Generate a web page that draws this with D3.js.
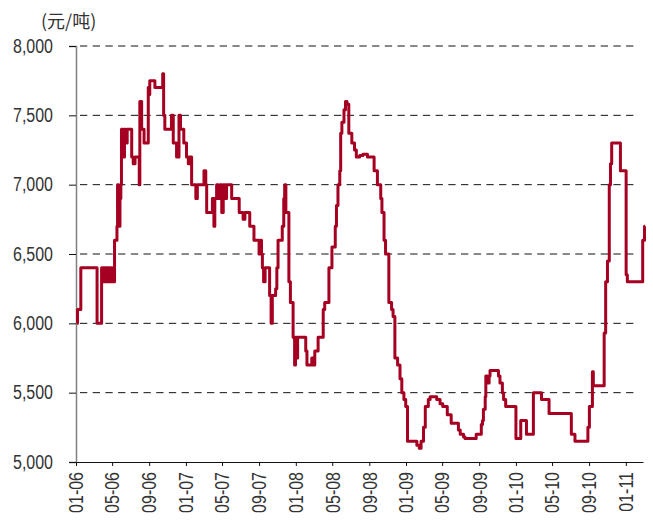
<!DOCTYPE html>
<html>
<head>
<meta charset="utf-8">
<script src="https://cdn.jsdelivr.net/npm/d3@7/dist/d3.min.js"></script>
<style>
  body { margin: 0; background: #fff; }
  text { font-family: "Liberation Sans Narrow", "Arial Narrow", "Liberation Sans", sans-serif; fill: #333; }
</style>
</head>
<body>
<script>
// price change dates (step after) and price in 元/吨
const dates = [
  "2006-01-04","2006-01-06","2006-01-17","2006-03-12","2006-03-27","2006-03-31","2006-04-04","2006-04-07",
  "2006-04-10","2006-04-15","2006-04-19","2006-04-24","2006-04-29","2006-05-01","2006-05-09","2006-05-17",
  "2006-05-19","2006-05-20","2006-05-22","2006-05-23","2006-05-27","2006-05-30","2006-06-01","2006-06-07",
  "2006-06-11","2006-06-16","2006-06-20","2006-07-05","2006-07-10","2006-07-16","2006-07-30","2006-08-01",
  "2006-08-07","2006-08-15","2006-08-29","2006-09-01","2006-09-03","2006-09-20","2006-10-16","2006-10-19",
  "2006-10-23","2006-11-14","2006-11-20","2006-12-01","2006-12-09","2006-12-14","2006-12-25",
  "2007-01-03","2007-01-09","2007-01-14","2007-01-20","2007-02-03","2007-02-08","2007-03-02","2007-03-08",
  "2007-03-11","2007-03-30","2007-04-04","2007-04-07","2007-04-13","2007-04-18","2007-04-24","2007-04-30",
  "2007-05-05","2007-05-11","2007-05-16","2007-06-02","2007-06-27","2007-07-10","2007-07-16","2007-08-01",
  "2007-08-15","2007-09-01","2007-09-06","2007-09-09","2007-09-12","2007-09-16","2007-09-21","2007-10-06",
  "2007-10-11","2007-10-15","2007-10-26","2007-10-30","2007-11-03","2007-11-17","2007-11-22","2007-11-25",
  "2007-11-29","2007-12-09","2007-12-14","2007-12-23","2007-12-28","2007-12-31",
  "2008-01-04","2008-01-07","2008-02-03","2008-02-07","2008-02-23","2008-02-28","2008-03-04","2008-03-15",
  "2008-04-01","2008-04-06","2008-04-20","2008-04-30","2008-05-11","2008-05-15","2008-05-20","2008-05-26",
  "2008-05-29","2008-06-02","2008-06-09","2008-06-14","2008-06-19","2008-06-25","2008-07-05","2008-07-14",
  "2008-07-20","2008-07-31","2008-08-11","2008-08-26","2008-09-17","2008-09-28","2008-10-09","2008-10-13",
  "2008-10-20","2008-10-25","2008-11-05","2008-11-14","2008-11-19","2008-11-25","2008-12-04","2008-12-12",
  "2008-12-18","2008-12-25","2008-12-31",
  "2009-01-06","2009-02-06","2009-02-14","2009-02-20","2009-02-28","2009-03-06","2009-03-16","2009-03-22",
  "2009-04-13","2009-04-24","2009-05-03","2009-05-18","2009-05-31","2009-06-24","2009-06-30","2009-07-11",
  "2009-07-16","2009-08-22","2009-09-08","2009-09-12","2009-09-15","2009-09-21","2009-09-23","2009-09-29",
  "2009-10-04","2009-10-07","2009-11-04","2009-11-09","2009-11-17","2009-11-21","2009-11-28",
  "2010-01-01","2010-01-17","2010-02-05","2010-02-28","2010-03-27","2010-04-21","2010-07-04","2010-07-16",
  "2010-08-28","2010-09-02","2010-09-12","2010-09-15","2010-10-16","2010-10-21","2010-10-26","2010-11-01",
  "2010-11-07","2010-11-11","2010-11-15","2010-12-14",
  "2011-01-02","2011-01-06","2011-02-26","2011-03-04","2011-03-06"
];
const prices = [
  6000,6100,6400,6000,6400,6300,6400,6300,
  6400,6300,6400,6300,6400,6300,6600,6700,
  7000,6800,7000,6700,6900,7000,7400,7200,
  7400,7300,7400,7200,7150,7200,7000,7600,
  7400,7300,7700,7650,7750,7700,7800,7500,
  7400,7500,7300,7200,7500,7400,7300,
  7200,7150,7200,7000,6900,7000,7100,7000,
  6800,6900,6700,6900,7000,6900,7000,6800,
  7000,6900,7000,6900,6800,6750,6800,6700,
  6600,6500,6600,6500,6400,6300,6400,6200,
  6000,6200,6250,6400,6600,6700,6900,7000,
  6800,6300,6150,5900,5700,5900,
  5750,5900,5800,5700,5750,5700,5800,5900,
  6100,6150,6400,6550,6700,6850,7000,7100,
  7370,7450,7540,7600,7580,7370,7300,7250,
  7200,7210,7220,7200,7100,7000,6900,6800,
  6600,6500,6150,6100,6050,5750,5700,5600,
  5500,5450,5400,
  5150,5120,5100,5150,5250,5400,5450,5470,
  5450,5420,5400,5340,5280,5230,5200,5180,
  5170,5200,5270,5300,5380,5470,5620,5570,
  5620,5660,5620,5570,5500,5450,5400,
  5170,5300,5200,5500,5450,5350,5200,5150,
  5250,5400,5650,5550,5550,5930,6300,6450,
  7000,7150,7300,7100,
  6350,6300,6600,6700,6700
];
const yTicks = [5000, 5500, 6000, 6500, 7000, 7500, 8000];
const xTickMonths = ["2006-01","2006-05","2006-09","2007-01","2007-05","2007-09","2008-01","2008-05",
  "2008-09","2009-01","2009-05","2009-09","2010-01","2010-05","2010-09","2011-01"];
const unitLabel = "(元/吨)";

const W = 653, H = 524;
const svg = d3.select("body").append("svg")
  .attr("width", W)
  .attr("height", H);

const parseDay = d3.utcParse("%Y-%m-%d");
const parseMonth = d3.utcParse("%Y-%m");
const data = dates.map((d, i) => ({ date: parseDay(d), price: prices[i] }));

const x = d3.scaleUtc()
  .domain([parseDay("2006-01-01"), parseDay("2011-02-27")])
  .range([76, 643]);
const y = d3.scaleLinear()
  .domain([5000, 8000])
  .range([462, 46]);

// the original uses a narrow face; squeeze the regular one to match
function narrow(sel) {
  sel.each(function () {
    const w = this.getComputedTextLength();
    d3.select(this).attr("textLength", w * 0.82).attr("lengthAdjust", "spacingAndGlyphs");
  });
}

// grid lines
svg.append("g")
  .selectAll("line")
  .data(yTicks.filter(v => v > 5000))
  .join("line")
  .attr("x1", 80)
  .attr("x2", 638)
  .attr("y1", d => y(d))
  .attr("y2", d => y(d))
  .attr("stroke", "#111")
  .attr("stroke-width", 1)
  .attr("stroke-dasharray", "7.3,5.4");

// y axis
const yAxis = svg.append("g")
  .attr("transform", "translate(76,0)")
  .call(d3.axisLeft(y).tickValues(yTicks).tickFormat(d3.format(",")).tickSize(7).tickPadding(16));
yAxis.select(".domain").attr("stroke", "#808080").attr("stroke-width", 1.5);
yAxis.selectAll(".tick line").attr("stroke", "#111");
yAxis.selectAll(".tick text").style("font-size", "19.5px").attr("fill", "#333").call(narrow);

// x axis
const xAxis = svg.append("g")
  .attr("transform", "translate(0,462)")
  .call(d3.axisBottom(x)
    .tickValues(xTickMonths.map(parseMonth))
    .tickFormat(d3.utcFormat("%m-%y"))
    .tickSizeInner(4)
    .tickSizeOuter(0));
xAxis.select(".domain").attr("stroke", "#111");
xAxis.selectAll(".tick line").attr("stroke", "#111");
xAxis.selectAll(".tick text")
  .style("font-size", "19.5px")
  .attr("fill", "#333")
  .attr("transform", "rotate(-90)")
  .attr("x", -10)
  .attr("y", 0)
  .attr("dy", "0.35em")
  .style("text-anchor", "end")
  .call(narrow);

// price line
const line = d3.line()
  .x(d => x(d.date))
  .y(d => y(d.price))
  .curve(d3.curveStepAfter);

svg.append("path")
  .datum(data)
  .attr("d", line)
  .attr("fill", "none")
  .attr("stroke", "#a50021")
  .attr("stroke-width", 3)
  .attr("stroke-linejoin", "round");

// unit label
svg.append("text")
  .attr("x", 41)
  .attr("y", 28)
  .style("font-family", "'Noto Sans CJK SC', sans-serif")
  .style("font-size", "18px")
  .text(unitLabel);
</script>
</body>
</html>
